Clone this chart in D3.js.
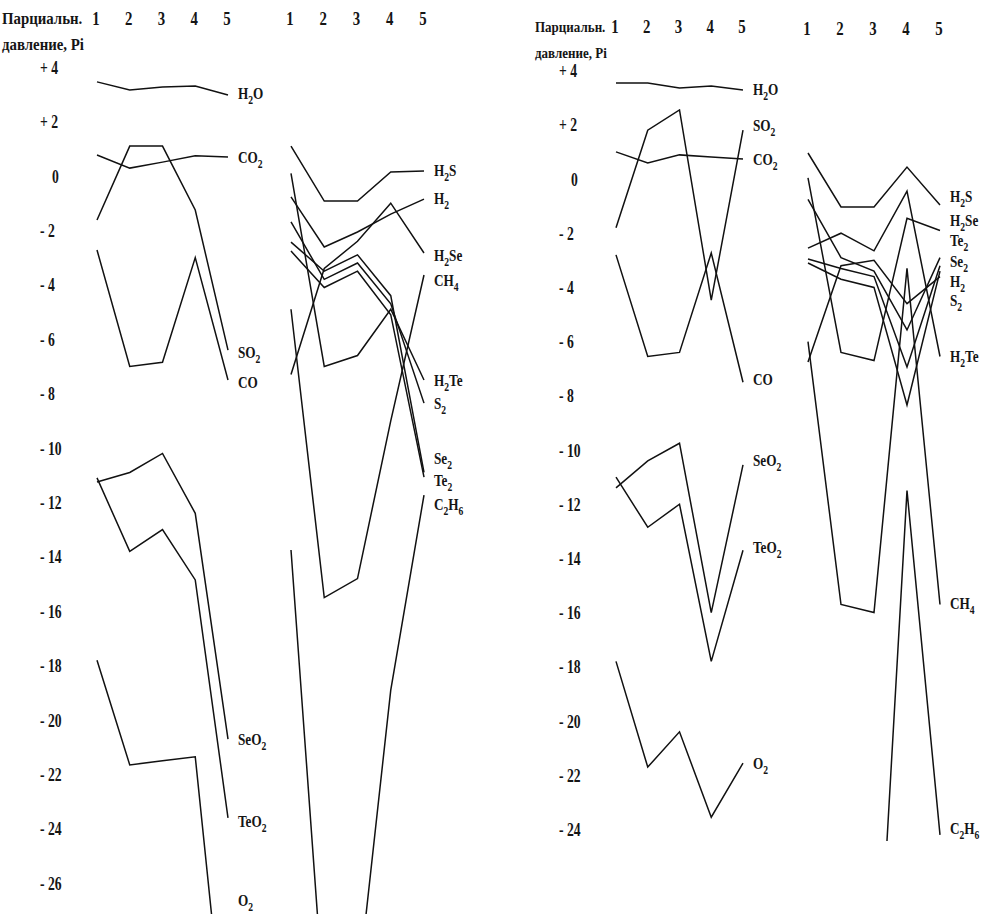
<!DOCTYPE html>
<html>
<head>
<meta charset="utf-8">
<script src="https://cdn.jsdelivr.net/npm/d3@7"></script>
<style>
  body { margin: 0; background: #fff; }
  text { font-family: "Liberation Serif", "Times New Roman", serif; font-weight: bold; fill: #151515; }
</style>
</head>
<body>
<svg id="chart" width="981" height="914"></svg>
<script>
// Column numbers (stages 1..5) and y tick values
const columns = [1, 2, 3, 4, 5];
const ticksLeft = [4, 2, 0, -2, -4, -6, -8, -10, -12, -14, -16, -18, -20, -22, -24, -26];
const ticksRight = [4, 2, 0, -2, -4, -6, -8, -10, -12, -14, -16, -18, -20, -22, -24];
const axisTitle = ["Парциальн.", "давление, Pi"];

// Left figure, oxides group: partial pressure, log units
const lNamesA = ["H2O", "CO2", "SO2", "CO", "SeO2", "TeO2", "O2"];
const lH2O  = [3.46, 3.16, 3.27, 3.31, 2.98];
const lCO2  = [0.77, 0.29, 0.51, 0.74, 0.70];
const lSO2  = [-1.62, 1.10, 1.10, -1.25, -6.40];
const lCO   = [-2.72, -7.00, -6.85, -3.00, -7.50];
const lSeO2 = [-11.25, -10.90, -10.20, -12.40, -20.70];
const lTeO2 = [-11.10, -13.80, -13.00, -14.85, -23.60];
const lO2   = [-17.80, -21.65, -21.50, -21.35, -33.00];
const lLabelA = [3.0, 0.65, -6.5, -7.6, -20.75, -23.75, -26.65];

// Left figure, hydrides / elements group
const lNamesB = ["H2S", "H2", "H2Se", "CH4", "H2Te", "S2", "Se2", "Te2", "C2H6"];
const lH2S  = [1.10, -0.92, -0.92, 0.15, 0.18];
const lH2   = [-0.77, -2.61, -2.06, -1.40, -0.85];
const lH2Se = [-7.30, -3.40, -2.40, -1.00, -2.83];
const lCH4  = [-4.90, -15.50, -14.80, -9.00, -3.64];
const lH2Te = [0.10, -7.00, -6.60, -4.90, -7.50];
const lS2   = [-1.69, -3.80, -3.20, -4.70, -8.35];
const lSe2  = [-2.43, -3.50, -2.90, -4.40, -10.90];
const lTe2  = [-2.76, -4.10, -3.50, -5.10, -11.07];
const lC2H6 = [-13.75, -30.60, -30.00, -18.90, -11.73];
const lLabelB = [0.2, -0.85, -2.95, -3.85, -7.55, -8.4, -10.4, -11.2, -12.1];

// Right figure, oxides group
const rNamesA = ["H2O", "SO2", "CO2", "CO", "SeO2", "TeO2", "O2"];
const rH2O  = [3.54, 3.54, 3.36, 3.43, 3.28];
const rSO2  = [-1.80, 1.80, 2.55, -4.47, 1.80];
const rCO2  = [1.00, 0.59, 0.89, 0.81, 0.74];
const rCO   = [-2.80, -6.55, -6.40, -2.73, -7.50];
const rSeO2 = [-11.40, -10.40, -9.75, -16.00, -10.55];
const rTeO2 = [-11.00, -12.85, -12.00, -17.80, -13.70];
const rO2   = [-17.80, -21.70, -20.40, -23.55, -21.55];
const rLabelA = [3.3, 1.95, 0.7, -7.4, -10.4, -13.6, -21.6];

// Right figure, hydrides / elements group (C2H6 lies below the axis at stages 1-3)
const rNamesB = ["H2S", "H2Se", "Te2", "Se2", "H2", "S2", "H2Te", "CH4", "C2H6"];
const rH2S  = [0.96, -1.03, -1.03, 0.44, -0.96];
const rH2Se = [0.04, -6.40, -6.70, -1.45, -1.90];
const rTe2  = [-0.75, -2.90, -3.40, -5.57, -2.90];
const rSe2  = [-2.95, -3.30, -3.60, -6.94, -3.20];
const rH2   = [-3.10, -3.70, -4.00, -8.34, -3.40];
const rS2   = [-6.75, -3.20, -3.00, -4.60, -3.60];
const rH2Te = [-2.55, -2.00, -2.65, -0.45, -6.55];
const rCH4  = [-6.00, -15.70, -16.00, -3.30, -15.70];
const rC2H6 = [-29.00, -31.00, -32.80, -11.50, -24.20];
const rLabelB = [-0.65, -1.55, -2.3, -3.05, -3.8, -4.5, -6.55, -15.7, -24.0];

const svg = d3.select("#chart");

const panels = [
  { x0: 0, tickX: 40, top: 0, titleSize: 16.5, titleScale: 0.9,
    ticks: ticksLeft, domain: [4, -26], range: [67.2, 883.2], clipBottom: 914,
    groups: [
      { names: lNamesA, series: [lH2O, lCO2, lSO2, lCO, lSeO2, lTeO2, lO2], labels: lLabelA, xr: [97, 228] },
      { names: lNamesB, series: [lH2S, lH2, lH2Se, lCH4, lH2Te, lS2, lSe2, lTe2, lC2H6], labels: lLabelB, xr: [291, 424] }
    ] },
  { x0: 533, tickX: 559, top: 8, titleSize: 15.5, titleScale: 0.84,
    ticks: ticksRight, domain: [4, -24], range: [70.6, 829.4], clipBottom: 841,
    groups: [
      { names: rNamesA, series: [rH2O, rSO2, rCO2, rCO, rSeO2, rTeO2, rO2], labels: rLabelA, xr: [616, 743] },
      { names: rNamesB, series: [rH2S, rH2Se, rTe2, rSe2, rH2, rS2, rH2Te, rCH4, rC2H6], labels: rLabelB, xr: [808, 940] }
    ] }
];

const fmt = v => v > 0 ? "+ " + v : v < 0 ? "- " + (-v) : "0";

// Narrow serif text: positioned by translate, squeezed horizontally
function place(sel, x, y, sx) {
  return sel.attr("transform", `translate(${x},${y}) scale(${sx},1)`);
}

// Chemical formula with digits drawn as subscripts
function formula(sel, str) {
  const parts = str.match(/[A-Za-z]+|\d+/g);
  let low = false;
  parts.forEach(p => {
    const isNum = /\d/.test(p);
    const t = sel.append("tspan").text(p);
    if (isNum) {
      t.attr("font-size", 12).attr("dy", low ? 0 : 5);
      low = true;
    } else {
      t.attr("dy", low ? -5 : 0);
      low = false;
    }
  });
}

panels.forEach((P, pi) => {
  const y = d3.scaleLinear().domain(P.domain).range(P.range);
  const g = svg.append("g");

  g.selectAll(null).data(axisTitle).join("text")
    .attr("font-size", P.titleSize).text(d => d)
    .each(function (d, i) { place(d3.select(this), P.x0 + 2, 24 + P.top + i * 26, P.titleScale); });

  g.selectAll(null).data(P.ticks).join("text")
    .attr("font-size", 19).attr("dy", "0.35em").text(fmt)
    .each(function (d) { place(d3.select(this), P.tickX + (d === 0 ? 12 : 0), y(d), 0.72); });

  svg.append("clipPath").attr("id", "clip" + pi)
    .append("rect").attr("x", P.x0).attr("y", 0).attr("width", 490).attr("height", P.clipBottom);

  P.groups.forEach((G, gi) => {
    const x = d3.scalePoint().domain(columns).range(G.xr);
    g.selectAll(null).data(columns).join("text")
      .attr("text-anchor", "middle").attr("font-size", 19).text(d => d)
      .each(function (d) { place(d3.select(this), x(d) - 1, 25 + P.top + (pi === 1 && gi === 1 ? 2 : 0), 0.78); });

    const line = d3.line().x((d, i) => x(columns[i])).y(d => y(d));
    g.append("g").attr("clip-path", `url(#clip${pi})`)
      .selectAll("path").data(G.series).join("path")
      .attr("d", line).attr("fill", "none")
      .attr("stroke", "#111").attr("stroke-width", 1.5).attr("stroke-linejoin", "miter");

    G.names.forEach((n, i) => {
      const t = g.append("text").attr("font-size", 16.5);
      place(t, x(5) + 10, y(G.labels[i]) + 5, 0.8);
      formula(t, n);
    });
  });
});
</script>
</body>
</html>
